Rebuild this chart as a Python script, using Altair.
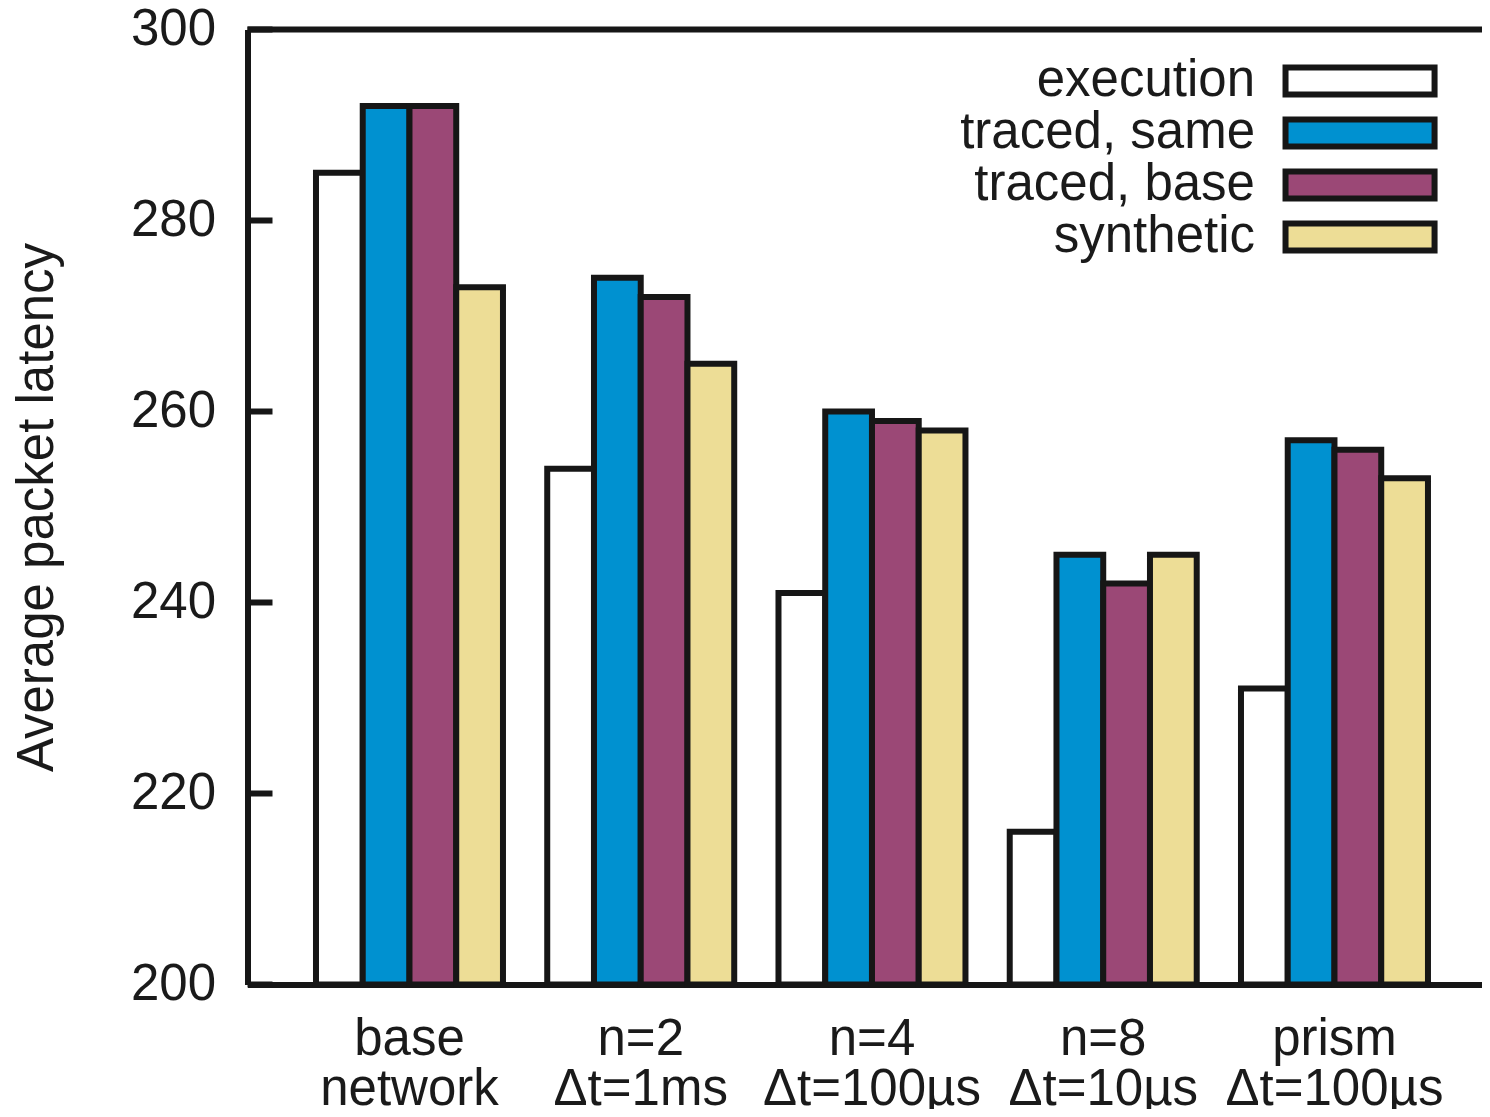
import altair as alt
import pandas as pd

groups = ["base\nnetwork", "n=2\nΔt=1ms", "n=4\nΔt=100µs", "n=8\nΔt=10µs", "prism\nΔt=100µs"]
series = ["execution", "traced, same", "traced, base", "synthetic"]
execution = [285, 254, 241, 216, 231]
traced_same = [292, 274, 260, 245, 257]
traced_base = [292, 272, 259, 242, 256]
synthetic = [273, 265, 258, 245, 253]
colors = ["#FFFFFF", "#0091D0", "#9B4876", "#EDDD96"]
y_ticks = [200, 220, 240, 260, 280, 300]

rows = []
for i, g in enumerate(groups):
    for s, vals in zip(series, [execution, traced_same, traced_base, synthetic]):
        rows.append({"group": g, "series": s, "value": vals[i]})
df = pd.DataFrame(rows)

W = 1234.5
H = 955
INK = "#161616"
TXT = "#1a1a1a"
FONT = "Liberation Sans"

bars = alt.Chart(df).mark_bar(stroke=INK, strokeWidth=6, strokeJoin="miter").encode(
    x=alt.X(
        "group:N", sort=groups, title=None,
        scale=alt.Scale(paddingInner=0.1914, paddingOuter=0.2649, align=0.559),
        axis=alt.Axis(
            labelExpr="split(datum.label, '\\n')", labelAngle=0, ticks=False, tickSize=0,
            domain=True, domainColor=INK, domainWidth=6,
            labelFontSize=51, labelLineHeight=50, labelPadding=30,
            labelFont=FONT, labelColor=TXT, labelLimit=0,
        ),
    ),
    xOffset=alt.XOffset("series:N", sort=series,
                        scale=alt.Scale(paddingInner=0, paddingOuter=0)),
    y=alt.Y(
        "value:Q", stack=None,
        scale=alt.Scale(domain=[200, 300], zero=False, nice=False),
        axis=alt.Axis(
            values=y_ticks, ticks=False, tickSize=0, grid=False,
            domain=True, domainColor=INK, domainWidth=6,
            labelFontSize=51, labelPadding=32, labelFont=FONT, labelColor=TXT,
            title="Average packet latency", titleFontSize=51, titleFont=FONT,
            titleFontWeight="normal", titleColor=TXT, titleAngle=270,
            titleBaseline="alphabetic", titleAlign="center",
            titleX=-195.5, titleY=477.5,
        ),
    ),
    y2=alt.datum(200),
    color=alt.Color(
        "series:N", sort=series,
        scale=alt.Scale(domain=series, range=colors),
        legend=alt.Legend(
            title=None, orient="none", legendX=956.5, legendY=26,
            symbolType="M4.15,-1H15.19V1H4.15Z", symbolSize=729,
            symbolStrokeWidth=6, symbolStrokeColor=INK,
            labelFontSize=51, labelFont=FONT, labelColor=TXT,
            labelAlign="right", labelOffset=0, labelLimit=0,
            rowPadding=0, padding=0,
        ),
    ),
)

ticks = alt.Chart(pd.DataFrame({"tick": y_ticks})).mark_rule(
    color=INK, strokeWidth=6
).encode(
    y="tick:Q", x=alt.value(0), x2=alt.value(25)
)

top_line = alt.Chart(pd.DataFrame({"tick": [300]})).mark_rule(
    color=INK, strokeWidth=6
).encode(
    y=alt.value(0), x=alt.value(0), x2=alt.value(W)
)

chart = alt.layer(bars, ticks, top_line).properties(
    width=W, height=H,
    autosize=alt.AutoSizeParams(type="none"),
    padding={"left": 239.5, "top": 21.5, "right": 0, "bottom": 124.5},
).configure_view(stroke=None).configure(font=FONT)

chart.save("out.html", embed_options={"renderer": "svg", "actions": False})
